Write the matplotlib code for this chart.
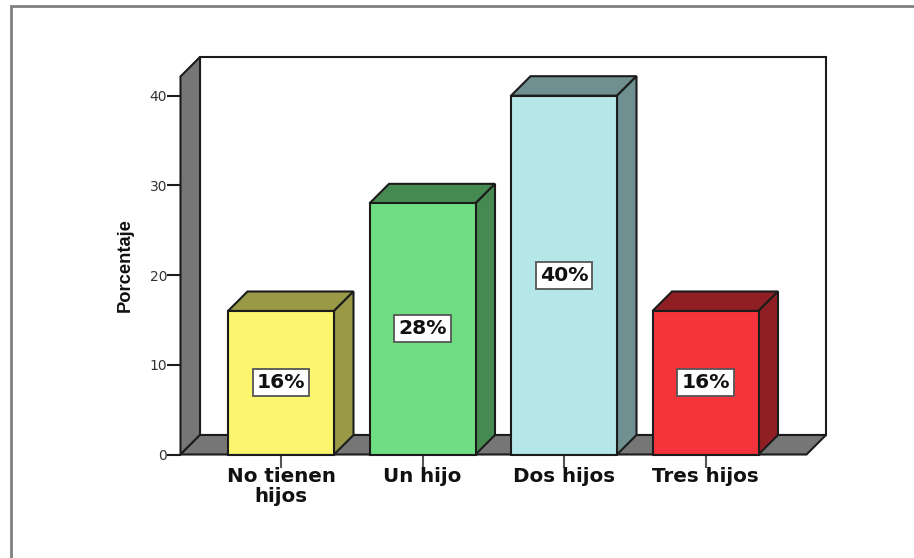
import matplotlib
matplotlib.use("Agg")
import matplotlib.pyplot as plt
from matplotlib.lines import Line2D
from matplotlib.patches import Polygon

categories = ["No tienen\nhijos", "Un hijo", "Dos hijos", "Tres hijos"]
percentages = [16, 28, 40, 16]
front_colors = ["#FBF66E", "#6FDE82", "#B6E7E8", "#F4333B"]
side_colors = ["#9A9A46", "#478A51", "#6F8F90", "#8F1F23"]
y_ticks = [0, 10, 20, 30, 40]

W, H = 914, 558
fig = plt.figure(figsize=(W / 100, H / 100), dpi=100, facecolor="white")

# Axes box: the front plane of the 3-D chart, in pixel measurements
left, right, bottom, top = 180.5, 806.5, 454.5, 76.5
ax = fig.add_axes([left / W, 1 - bottom / H, (right - left) / W, (bottom - top) / H])
px_per_cat = 141.5
px_per_val = 8.97
ax.set_xlim(-(281 - left) / px_per_cat, (right - 281) / px_per_cat)
ax.set_ylim(0, (bottom - top) / px_per_val)
ax.patch.set_visible(False)
for s in ax.spines.values():
    s.set_visible(False)

depth_x = 19.5 / px_per_cat
depth_y = 19.5 / px_per_val
x0, x1 = ax.get_xlim()
y0, y1 = ax.get_ylim()
EDGE = "#1c1c1c"
WALL = "#767676"


def face(points, color, z, lw=1.5):
    ax.add_patch(Polygon(points, closed=True, facecolor=color, edgecolor=EDGE,
                         linewidth=lw, joinstyle="miter", zorder=z, clip_on=False))


# Back wall, left wall and floor
face([(x0 + depth_x, y0 + depth_y), (x1 + depth_x, y0 + depth_y),
      (x1 + depth_x, y1 + depth_y), (x0 + depth_x, y1 + depth_y)], "white", 1)
face([(x0, y0), (x0 + depth_x, y0 + depth_y), (x0 + depth_x, y1 + depth_y), (x0, y1)], WALL, 2)
face([(x0, y0), (x1, y0), (x1 + depth_x, y0 + depth_y), (x0 + depth_x, y0 + depth_y)], WALL, 2)

# Bars with front, top and side faces
bar_w = 106 / px_per_cat
for i, (v, fc, sc) in enumerate(zip(percentages, front_colors, side_colors)):
    a, b = i - bar_w / 2, i + bar_w / 2
    face([(a, v), (b, v), (b + depth_x, v + depth_y), (a + depth_x, v + depth_y)], sc, 3)
    face([(b, 0), (b + depth_x, depth_y), (b + depth_x, v + depth_y), (b, v)], sc, 3)
    face([(a, 0), (b, 0), (b, v), (a, v)], fc, 4)
    ax.text(i, v / 2, f"{v}%", ha="center", va="center", zorder=6,
            fontsize=14.6, fontweight="bold", family="DejaVu Sans", color="#111111",
            bbox=dict(boxstyle="square,pad=0.2", facecolor="white",
                      edgecolor="#555555", linewidth=1.3))

ax.set_xticks(range(len(categories)))
ax.set_xticklabels(categories, fontsize=14.3, fontweight="bold", family="DejaVu Sans",
                   color="#111111", linespacing=1.05)
ax.tick_params(axis="x", length=9, width=1.5, color="#555555", pad=0)
ax.set_yticks(y_ticks)
ax.tick_params(axis="y", length=10, width=1.5, color=EDGE, pad=-0.5,
               labelsize=10, labelcolor="#333333")
for t in ax.get_yticklabels():
    t.set_family("DejaVu Sans")
ax.axhline(0, xmin=-0.0, xmax=1, color=EDGE, lw=1.5, zorder=5)

fig.text(125.5 / W, 1 - 265 / H, "Porcentaje", rotation=90, ha="center", va="center",
         fontsize=13.2, fontweight="bold", family="Liberation Sans", color="#111111")

# Gray frame that runs off the right and bottom edges
fig.add_artist(Line2D([11 / W, 11 / W, 1], [0, 1 - 6 / H, 1 - 6 / H], color="#808080", lw=2,
                      transform=fig.transFigure, solid_joinstyle="miter"))

fig.savefig("out.png", dpi=100, facecolor="white")
